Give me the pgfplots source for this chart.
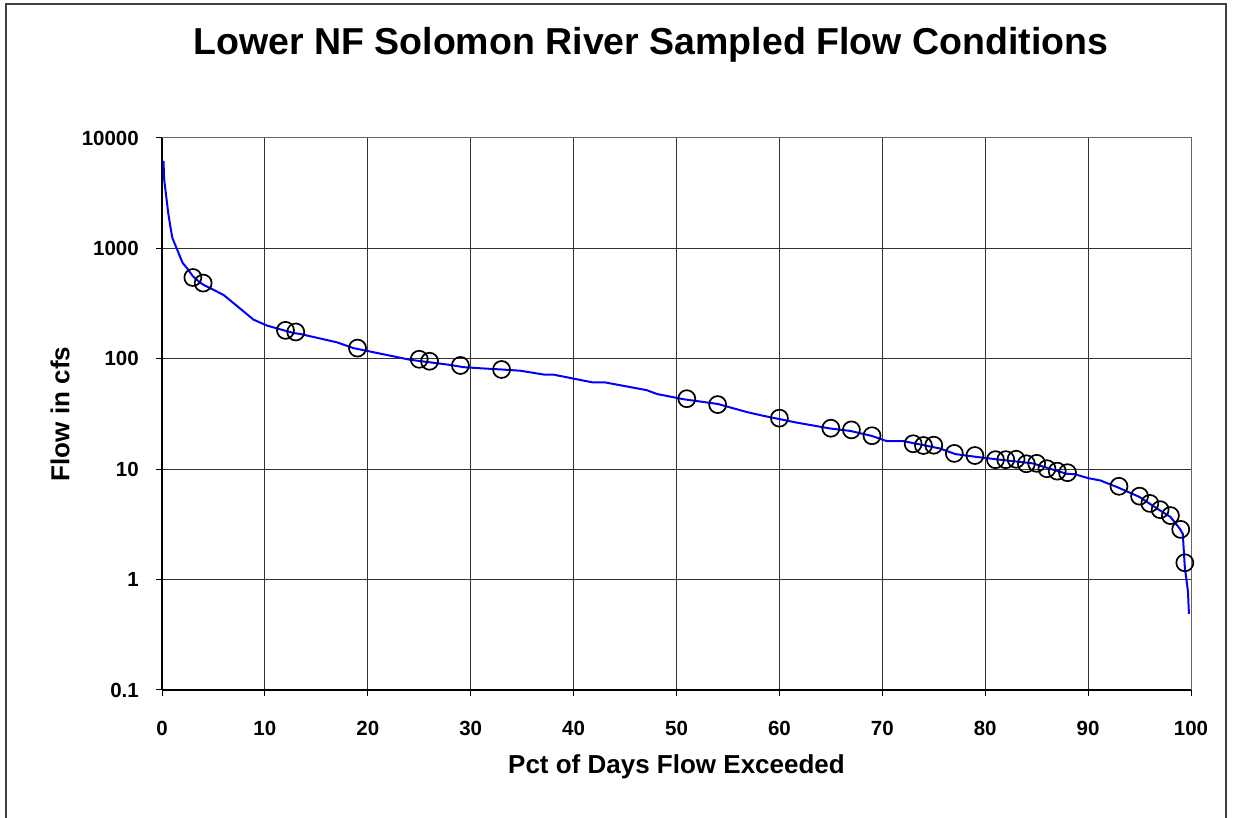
\documentclass[border=0pt]{standalone}
\usepackage{pgfplots}
\pgfplotsset{compat=1.18}
\usepackage{fontspec}
\setmainfont{Liberation Sans}
\begin{document}
\begin{tikzpicture}[x=1pt,y=1pt]
\path[use as bounding box] (0,0) rectangle (1233,818);
\draw[line width=1.6pt, black!75] (6,-20) -- (6,814) -- (1226,814) -- (1226,-20);
\begin{axis}[
  at={(162pt,128pt)}, anchor=south west,
  scale only axis, width=1029pt, height=552pt,
  xmin=0, xmax=100, ymode=log, ymin=0.1, ymax=10000,
  xtick={0,10,...,100},
  ytick={0.1,1,10,100,1000,10000},
  yticklabels={0.1,1,10,100,1000,10000},
  yminorticks=false,
  xtick pos=left, ytick pos=left,
  tick align=outside, major tick length=6pt,
  tick style={black, line width=1pt},
  grid=major,
  major grid style={black!80, line width=1pt},
  axis line style={black!60, line width=1pt},
  /pgf/number format/assume math mode=true,
  ticklabel style={font=\fontsize{20.5}{24}\selectfont\bfseries, inner sep=0pt},
  xticklabel style={anchor=base, yshift=-40pt},
  yticklabel style={anchor=east, xshift=-17pt},
  title={Lower NF Solomon River Sampled Flow Conditions},
  title style={at={(axis description cs:0.475,1.1395)}, anchor=base, font=\fontsize{37.5}{42}\selectfont\bfseries, inner sep=0pt},
  xlabel={Pct of Days Flow Exceeded},
  xlabel style={at={(axis description cs:0.5,-0.1395)}, anchor=center, font=\fontsize{26}{30}\selectfont\bfseries, inner sep=0pt},
  ylabel={Flow in cfs},
  ylabel style={at={(axis description cs:-0.0991,0.5)}, anchor=center, rotate=0, font=\fontsize{26}{30}\selectfont\bfseries, inner sep=0pt},
  clip=false,
]
\draw[black, line width=1.2pt] (rel axis cs:0,0) -- (rel axis cs:0,1);
\draw[black, line width=1.2pt] (rel axis cs:0,0) -- (rel axis cs:1,0);
\addplot[blue, line width=2pt, no markers] coordinates {
(0.15,6200) (0.2,4300) (0.6,2110) (0.8,1600) (1.0,1250) (2.0,740) (2.4,667)
(3.0,560) (3.7,490) (4.0,470) (6.0,378) (8.9,226) (10.2,200) (12.8,171)
(13.4,168) (17,141) (18.6,125) (24.1,98) (28,88) (29.3,84) (31,82) (33,80)
(34.8,78) (37.1,72) (38,72) (41.9,61) (43.1,61) (47.1,52) (48.1,48) (50.7,43)
(54,39) (56.8,33) (58.4,30.5) (61.7,26.4) (64.9,23.4) (66.9,22.2) (69,20)
(70.4,18) (72,18) (75.6,15.4) (77.1,13.7) (79.2,12.9) (81.4,12.2) (84.6,11.3)
(86,10.3) (87.9,9.1) (88.7,9.0) (90,8.3) (91.2,7.9) (92.8,6.9) (95,5.6)
(96.7,4.4) (98,3.7) (98.9,2.9) (99.2,2.6) (99.4,1.29) (99.7,0.79) (99.8,0.49)
};
\addplot[only marks, mark=o, mark size=8.5pt, mark options={black, line width=1.7pt}] coordinates {
(3,545) (4,485) (12,181) (13,175) (19,125) (25,99) (26,95) (29,87) (33,80)
(51,43.5) (54,38.5) (60,29) (65,23.5) (67,22.7) (69,20.1) (73,17.0) (74,16.4)
(75,16.5) (77,13.9) (79,13.3) (81,12.2) (82,12.2) (83,12.3) (84,11.2) (85,11.3)
(86,10.1) (87,9.6) (88,9.3) (93,7.0) (95,5.7) (96,4.9) (97,4.3) (98,3.8)
(99,2.85) (99.4,1.42)
};
\end{axis}
\end{tikzpicture}
\end{document}
